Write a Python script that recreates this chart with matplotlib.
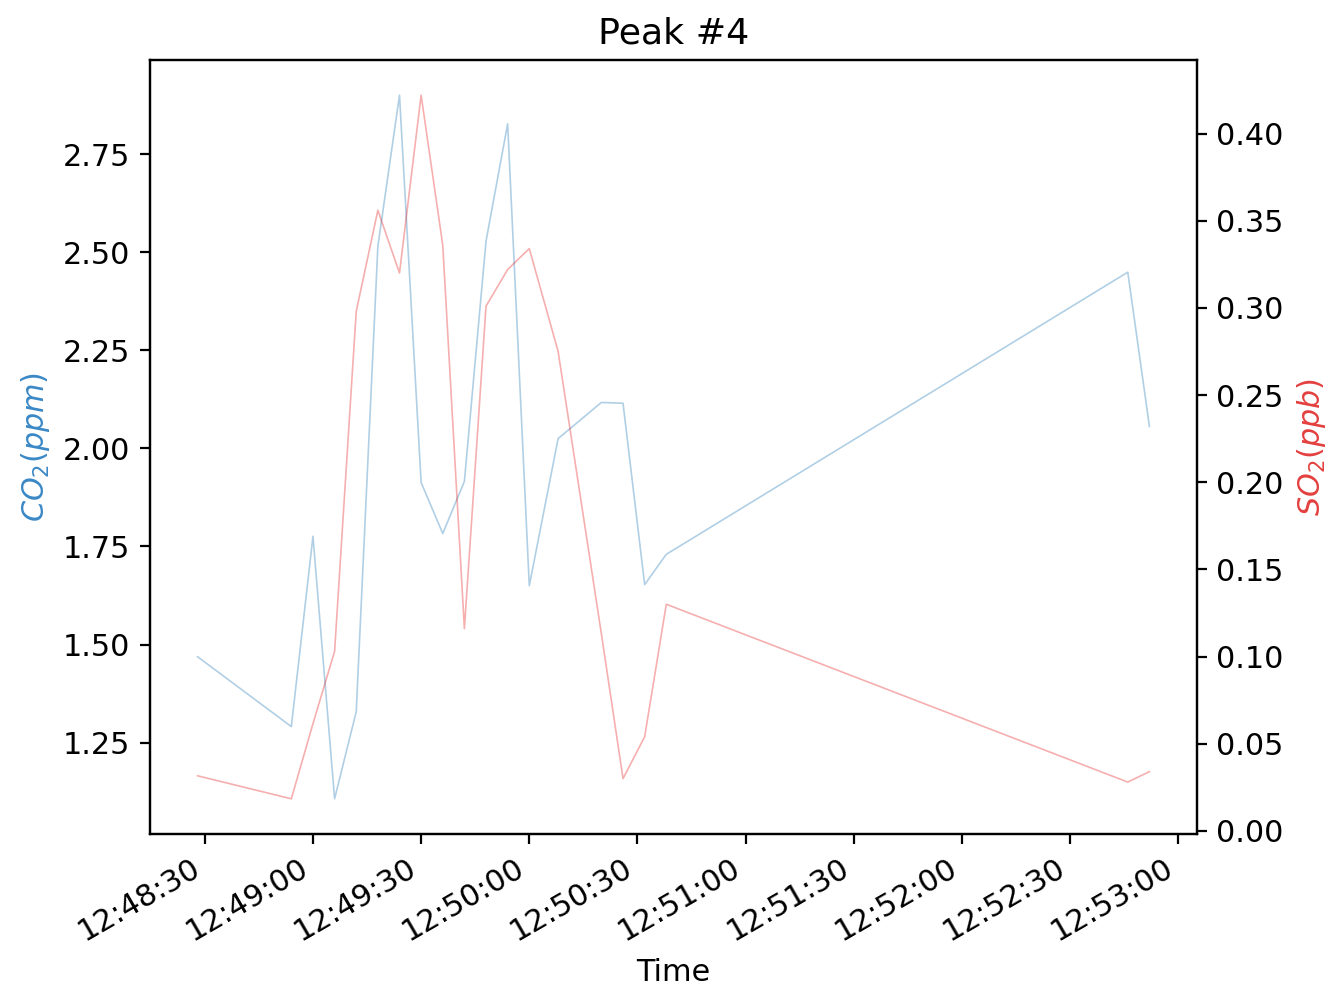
import matplotlib
matplotlib.use("Agg")
import matplotlib.pyplot as plt
import matplotlib.dates as mdates
import pandas as pd

times = ["12:48:28", "12:48:54", "12:49:00", "12:49:06", "12:49:12", "12:49:18",
         "12:49:24", "12:49:30", "12:49:36", "12:49:42", "12:49:48", "12:49:54",
         "12:50:00", "12:50:08", "12:50:20", "12:50:26", "12:50:32", "12:50:38",
         "12:52:46", "12:52:52"]
co2 = [1.469, 1.291, 1.776, 1.107, 1.329, 2.515, 2.900, 1.913, 1.783, 1.916,
       2.528, 2.827, 1.650, 2.025, 2.117, 2.115, 1.653, 1.730, 2.449, 2.056]
so2 = [0.0316, 0.0184, 0.0615, 0.103, 0.298, 0.356, 0.320, 0.422, 0.336, 0.116,
       0.301, 0.322, 0.334, 0.275, 0.113, 0.030, 0.054, 0.130, 0.028, 0.034]

t = pd.to_datetime(["2020-01-01 " + s for s in times])

plt.rcParams["font.size"] = 10.9

fig = plt.figure(figsize=(6.675, 4.94), dpi=200)
ax = fig.add_axes([150/1335, 1-834/988, (1197-150)/1335, (834-60)/988])
ax.plot(t, co2, color="#1f77b4", alpha=0.35, lw=0.6)
ax.set_ylabel(r"$CO_2 (ppm)$", color="#3a88c6")
ax.set_xlabel("Time")
ax.set_title("Peak #4")
ax2 = ax.twinx()
ax2.plot(t, so2, color="#e41a1c", alpha=0.35, lw=0.6)
ax2.set_ylabel(r"$SO_2 (ppb)$", color="#e3403f")
ax.xaxis.set_major_formatter(mdates.DateFormatter("%H:%M:%S"))
ax.xaxis.set_major_locator(mdates.SecondLocator(bysecond=[0, 30]))
for lab in ax.get_xticklabels():
    lab.set_rotation(30)
    lab.set_ha("right")
fig.savefig("out.png", dpi=200)
